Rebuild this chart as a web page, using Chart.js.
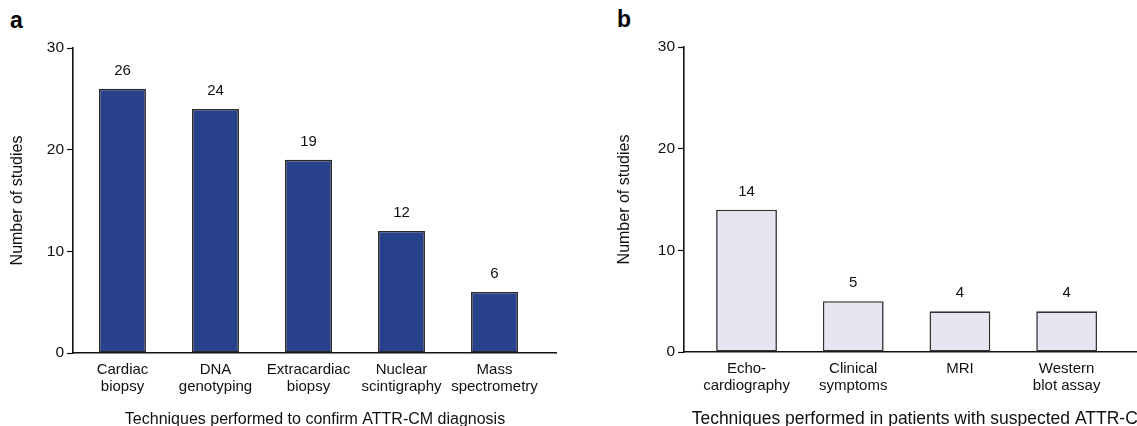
<!DOCTYPE html>
<html>
<head>
<meta charset="utf-8">
<script src="https://cdn.jsdelivr.net/npm/chart.js@4"></script>
<style>
  html, body { margin:0; padding:0; background:#fff; overflow:hidden; }
  body { width:1137px; height:426px; position:relative; font-family:"Liberation Sans", Arial, sans-serif; }
  .panel { position:absolute; top:0; height:426px; }
  .tag { position:absolute; font-weight:bold; font-size:23px; color:#000; }
</style>
</head>
<body>
<div class="tag" style="left:10px;top:7px;">a</div>
<div class="tag" style="left:617px;top:6px;">b</div>
<div class="panel" style="left:0;width:557px;"><canvas id="chart-a"></canvas></div>
<div class="panel" style="left:600px;width:560px;"><canvas id="chart-b"></canvas></div>
<script>
// panel a
const catsA = [["Cardiac", "biopsy"], ["DNA", "genotyping"], ["Extracardiac", "biopsy"], ["Nuclear", "scintigraphy"], ["Mass", "spectrometry"]]
const valsA = [26, 24, 19, 12, 6]
// panel b
const catsB = [["Echo-", "cardiography"], ["Clinical", "symptoms"], ["MRI"], ["Western", "blot assay"]]
const valsB = [14, 5, 4, 4]
const yTicks = [0, 10, 20, 30]

const font = "'Liberation Sans', Arial, sans-serif"

// numbers on top of the bars
const barLabels = {
  id: 'barLabels',
  afterDatasetsDraw(chart) {
    const ctx = chart.ctx
    ctx.save()
    ctx.font = "15px " + font
    ctx.fillStyle = "#111"
    ctx.textAlign = "center"
    ctx.textBaseline = "middle"
    chart.getDatasetMeta(0).data.forEach((bar, i) => {
      ctx.fillText(chart.data.datasets[0].data[i].y, bar.x, bar.y - 18)
    })
    ctx.restore()
  }
}

function makeChart(id, cats, vals, opt) {
  const ctx = document.getElementById(id).getContext('2d')
  return new Chart(ctx, {
    type: 'bar',
    data: {
      datasets: [{
        data: vals.map((v, i) => ({ x: i, y: v })),
        backgroundColor: opt.fill,
        borderColor: opt.edge,
        borderWidth: 1.6,
        borderSkipped: false,
        barPercentage: opt.barPct,
        categoryPercentage: 1
      }]
    },
    options: {
      responsive: false,
      animation: false,
      layout: { padding: { top: opt.top, right: 0, left: 0, bottom: 0 } },
      plugins: { legend: { display: false }, tooltip: { enabled: false } },
      scales: {
        x: {
          type: 'linear',
          offset: false,
          min: opt.xmin,
          max: opt.xmax,
          afterFit: (s) => { s.height = opt.xh },
          afterBuildTicks: (s) => { s.ticks = cats.map((c, i) => ({ value: i })) },
          border: { display: true, color: '#111', width: 1.6 },
          grid: { display: false, offset: false },
          ticks: {
            autoSkip: false,
            maxRotation: 0,
            padding: 0,
            color: '#111',
            font: { family: font, size: 15, lineHeight: 1.13 },
            callback: (v) => cats[v]
          },
          title: {
            display: true,
            text: opt.xtitle,
            color: '#111',
            font: { family: font, size: opt.xts, lineHeight: 1 },
            padding: { top: 0, bottom: -2 }
          }
        },
        y: {
          min: 0,
          max: 30,
          afterFit: (s) => { s.width = opt.yw },
          afterBuildTicks: (s) => { s.ticks = yTicks.map(v => ({ value: v })) },
          border: { display: true, color: '#111', width: 1.6 },
          grid: { drawOnChartArea: false, tickLength: 6, color: '#111', tickWidth: 1.2 },
          ticks: { color: '#111', padding: 3, font: { family: font, size: 15.5 } },
          title: {
            display: true,
            text: 'Number of studies',
            color: '#111',
            font: { family: font, size: 16, lineHeight: 1 },
            padding: { top: opt.ytp, bottom: 0 }
          }
        }
      }
    },
    plugins: [barLabels]
  })
}

function sizeCanvas(id, w, h) {
  const c = document.getElementById(id)
  c.width = w; c.height = h
  c.style.width = w + 'px'; c.style.height = h + 'px'
}

sizeCanvas('chart-a', 557, 426)
sizeCanvas('chart-b', 560, 426)

makeChart('chart-a', catsA, valsA, {
  fill: '#27418B', edge: '#2a2a2a', barPct: 0.505,
  xmin: -0.532, xmax: 4.672, top: 48, xh: 73, yw: 73, ytp: 10, xts: 16,
  xtitle: 'Techniques performed to confirm ATTR-CM diagnosis'
})

makeChart('chart-b', catsB, valsB, {
  fill: '#E6E6F2', edge: '#333333', barPct: 0.57,
  xmin: -0.586, xmax: 3.875, top: 47, xh: 74, yw: 84, ytp: 17, xts: 17.5,
  xtitle: 'Techniques performed in patients with suspected ATTR-CM'
})
</script>
</body>
</html>
